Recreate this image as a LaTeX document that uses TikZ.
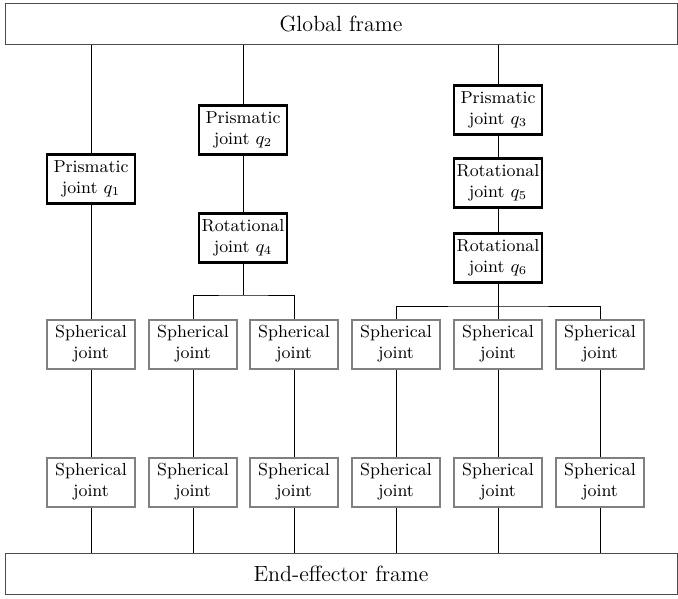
\documentclass[tikz,border=0pt]{standalone}
\usepackage{tikz}
\tikzset{
  joint/.style={draw, line width=1.2pt, minimum width=44pt, minimum height=24.5pt,
    align=center, inner sep=1pt, font=\fontsize{8.7}{10.5}\selectfont},
  sphjoint/.style={joint, draw=black!50, line width=1pt},
  frame/.style={draw=black!70, line width=0.5pt, minimum width=336pt,
    minimum height=20.5pt, font=\fontsize{11}{13}\selectfont},
  link/.style={line width=0.5pt}
}

\begin{document}
\begin{tikzpicture}[x=0.5pt,y=-0.5pt]
   \useasboundingbox (0,0) rectangle (678,598);

   % frames
   \node[frame] (gf) at (341,24) {Global frame};
   \node[frame] (ef) at (341,574) {End-effector frame};

   % actuated joints
   \node[joint] (pq1) at (91,179) {Prismatic\\joint $q_1$};
   \node[joint] (pq2) at (243,130) {Prismatic\\joint $q_2$};
   \node[joint] (rq4) at (243,238) {Rotational\\joint $q_4$};
   \node[joint] (pq3) at (498,110) {Prismatic\\joint $q_3$};
   \node[joint] (rq5) at (498,183) {Rotational\\joint $q_5$};
   \node[joint] (rq6) at (498,258) {Rotational\\joint $q_6$};

   % passive joints
   \foreach \x [count=\i] in {91,193,294,396,498,600} {
     \node[sphjoint] (sa\i) at (\x,344) {Spherical\\joint};
     \node[sphjoint] (sb\i) at (\x,482) {Spherical\\joint};
     \draw[link] (sa\i) -- (sb\i);
     \draw[link] (sb\i) -- (sb\i |- ef.north);
   }

   \coordinate (br2) at (243,295);
   \coordinate (br3) at (498,306);

   % chain 1
   \draw[link] (gf.south -| pq1) -- (pq1);
   \draw[link] (pq1) -- (sa1);
   % chain 2
   \draw[link] (gf.south -| pq2) -- (pq2);
   \draw[link] (pq2) -- (rq4);
   \draw[link] (rq4) -- (br2);
   \draw[link] (sa2) |- (br2) -| (sa3);
   % chain 3
   \draw[link] (gf.south -| pq3) -- (pq3);
   \draw[link] (pq3) -- (rq5);
   \draw[link] (rq5) -- (rq6);
   \draw[link] (rq6) -- (br3);
   \draw[link] (sa4) |- (br3) -| (sa6);
   \draw[link] (br3) -- (sa5);
\end{tikzpicture}
\end{document}
